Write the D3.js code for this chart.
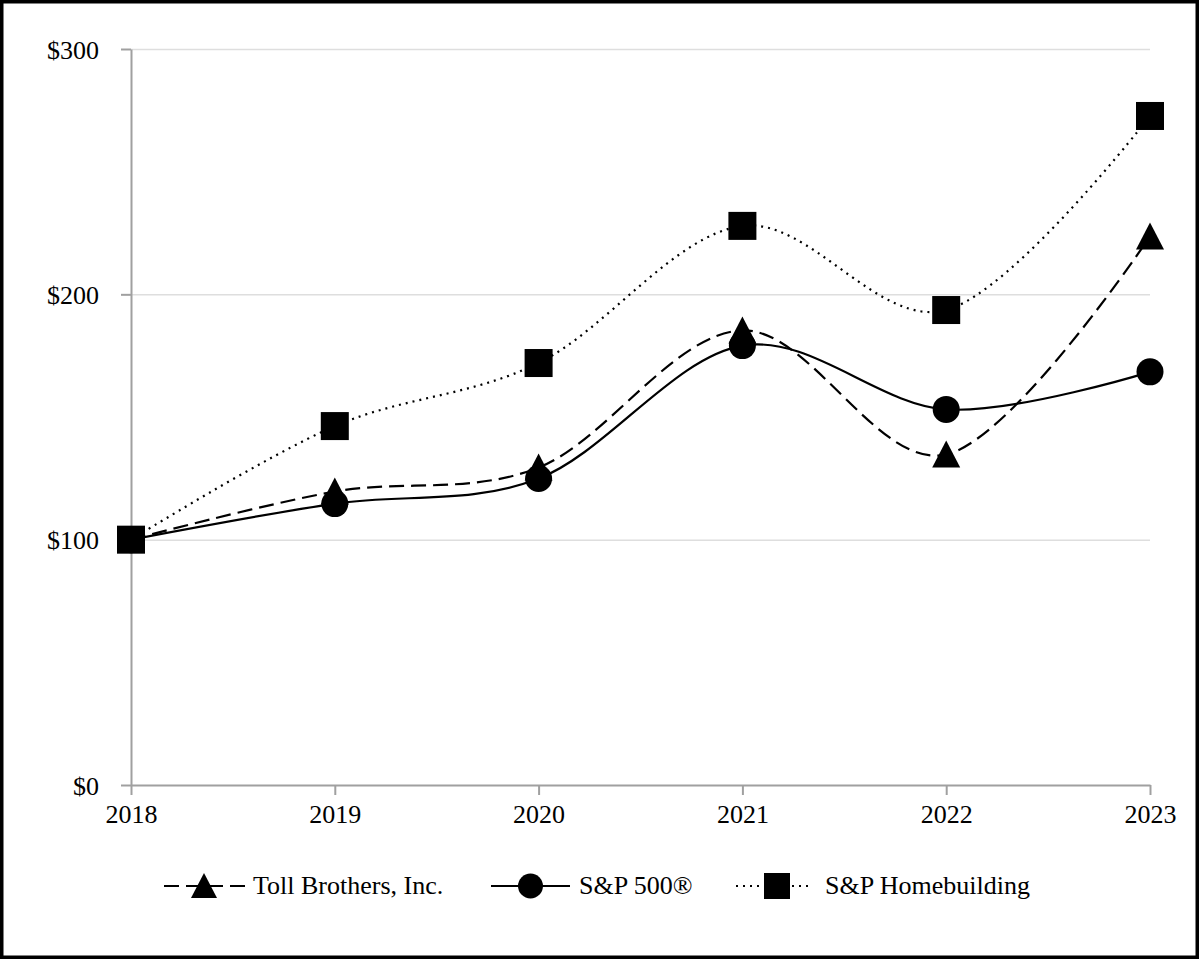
<!DOCTYPE html>
<html>
<head>
<meta charset="utf-8">
<script src="https://cdn.jsdelivr.net/npm/d3@7"></script>
<style>
  html, body { margin: 0; padding: 0; background: #fff; }
  svg { display: block; font-family: "Liberation Serif", "Times New Roman", serif; }
</style>
</head>
<body>
<div id="chart"></div>
<script>
// values, indexed $100 in 2018
const years = [2018, 2019, 2020, 2021, 2022, 2023];
const tollBrothers = [100, 119.6, 129.4, 185.3, 134.7, 223.6];
const sp500 = [100, 114.7, 124.9, 179.1, 153.1, 168.4];
const spHomebuilding = [100, 146.3, 172.0, 227.9, 193.6, 272.7];
const yTicks = [0, 100, 200, 300];
const seriesNames = ['Toll Brothers, Inc.', 'S&P 500®', 'S&P Homebuilding'];

const width = 1200;
const height = 960;
const margin = { top: 49, right: 50, bottom: 175, left: 131 };

const series = [
    { name: seriesNames[0], values: tollBrothers, marker: 'triangle', dash: '15,7' },
    { name: seriesNames[1], values: sp500, marker: 'circle', dash: null },
    { name: seriesNames[2], values: spHomebuilding, marker: 'square', dash: '2,5' },
];

const svg = d3.select('#chart')
    .append('svg')
    .attr('width', width)
    .attr('height', height);

svg.append('rect')
    .attr('class', 'frame')
    .attr('x', 1.75).attr('y', 1.75)
    .attr('width', width - 4.5).attr('height', height - 4.5)
    .attr('fill', '#fff')
    .attr('stroke', '#000')
    .attr('stroke-width', 3.5);

const xScale = d3.scaleLinear()
    .domain(d3.extent(years))
    .range([margin.left, width - margin.right]);

const yScale = d3.scaleLinear()
    .domain([0, 300])
    .range([height - margin.bottom, margin.top]);

// gridlines
svg.append('g')
    .attr('class', 'gridlines')
    .attr('transform', `translate(${margin.left}, 0)`)
    .call(d3.axisLeft(yScale).tickValues(yTicks.filter(d => d > 0)).tickFormat('')
        .tickSize(-(width - margin.right - margin.left)))
    .call(g => g.select('.domain').remove())
    .call(g => g.selectAll('line').attr('stroke', '#dedede').attr('stroke-width', 1.5));

// axes
const yAxis = svg.append('g')
    .attr('transform', `translate(${margin.left}, 0)`)
    .call(d3.axisLeft(yScale).tickValues(yTicks).tickFormat(d => '$' + d)
        .tickSizeInner(10).tickSizeOuter(0).tickPadding(22));

const xAxis = svg.append('g')
    .attr('transform', `translate(0, ${yScale(0)})`)
    .call(d3.axisBottom(xScale).tickValues(years).tickFormat(d3.format('d'))
        .tickSizeInner(10).tickSizeOuter(0).tickPadding(7));

[xAxis, yAxis].forEach(ax => {
    ax.selectAll('.domain').attr('stroke', '#a0a0a0').attr('stroke-width', 2);
    ax.selectAll('.tick line').attr('stroke', '#a0a0a0').attr('stroke-width', 2);
    ax.selectAll('.tick text')
        .attr('fill', '#000')
        .style('font-family', '"Liberation Serif", "Times New Roman", serif')
        .style('font-size', '26px');
});
xAxis.selectAll('.tick text').attr('dy', '0.8em');
yAxis.selectAll('.tick text').attr('dy', '0.35em');

yAxis.lower();
svg.select('.gridlines').lower();
svg.select('.frame').lower();

const line = d3.line()
    .x((d, i) => xScale(years[i]))
    .y(d => yScale(d))
    .curve(d3.curveCatmullRom.alpha(0));

function drawMarker(g, type, s) {
    if (type === 'triangle') {
        g.append('path')
            .attr('d', `M0,${-s}L${s},${s - 1}L${-s},${s - 1}Z`)
            .attr('fill', '#000');
    } else if (type === 'circle') {
        g.append('circle')
            .attr('r', s - 0.5)
            .attr('fill', '#000');
    } else {
        g.append('rect')
            .attr('x', -s).attr('y', -s)
            .attr('width', 2 * s).attr('height', 2 * s)
            .attr('fill', '#000');
    }
}

const plot = svg.append('g').attr('class', 'series');

series.forEach(s => {
    plot.append('path')
        .datum(s.values)
        .attr('d', line)
        .attr('fill', 'none')
        .attr('stroke', '#000')
        .attr('stroke-width', 2.2)
        .attr('stroke-dasharray', s.dash);
});

series.forEach(s => {
    s.values.forEach((v, i) => {
        const g = plot.append('g')
            .attr('transform', `translate(${xScale(years[i])}, ${yScale(v)})`);
        drawMarker(g, s.marker, 14);
    });
});

// legend
const legendY = 886;
const legendItems = [
    { x0: 164, x1: 245, mx: 204, tx: 253 },
    { x0: 491, x1: 570, mx: 530.5, tx: 579 },
    { x0: 736, x1: 810, mx: 777, tx: 825 },
];

const legend = svg.append('g').attr('class', 'legend');
series.forEach((s, i) => {
    const pos = legendItems[i];
    legend.append('line')
        .attr('x1', pos.x0).attr('x2', pos.x1)
        .attr('y1', legendY).attr('y2', legendY)
        .attr('stroke', '#000')
        .attr('stroke-width', 2.2)
        .attr('stroke-dasharray', s.dash);
    const g = legend.append('g')
        .attr('transform', `translate(${pos.mx}, ${legendY})`);
    drawMarker(g, s.marker, 13);
    legend.append('text')
        .attr('x', pos.tx)
        .attr('y', legendY)
        .attr('dy', '0.3em')
        .style('font-size', '26px')
        .text(s.name);
});
</script>
</body>
</html>
